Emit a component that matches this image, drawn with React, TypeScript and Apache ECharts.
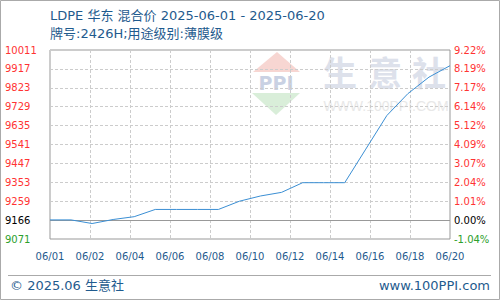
import React, { useEffect, useRef } from "react";
import * as echarts from "echarts";

const dates = ["06/01","06/02","06/03","06/04","06/05","06/06","06/07","06/08","06/09","06/10","06/11","06/12","06/13","06/14","06/15","06/16","06/17","06/18","06/19","06/20"];
const prices = [9166, 9166, 9148, 9168, 9182, 9218, 9218, 9218, 9218, 9259, 9285, 9303, 9351, 9351, 9351, 9518, 9685, 9794, 9876, 9933];
const xTickLabels = ["06/01","06/02","06/04","06/06","06/08","06/10","06/12","06/14","06/16","06/18","06/20"];
const leftLabels = ["9071","9166","9259","9353","9447","9541","9635","9729","9823","9917","10011"];
const rightLabels = ["-1.04%","0.00%","1.01%","2.04%","3.07%","4.09%","5.12%","6.14%","7.17%","8.19%","9.22%"];
const basePrice = 9166;
const yMin = 9071;
const yMax = 10011;
const yStep = 94;
const xStep = 1.9;

const titleLine1 = "LDPE 华东 混合价 2025-06-01 - 2025-06-20";
const titleLine2 = "牌号:2426H;用途级别:薄膜级";
const footerLeft = "© 2025.06 生意社";
const footerRight = "www.100PPI.com";

const BLUE = "#1f5b8e";
const LABEL_FONT = "DejaVu Sans";

function tickIdx(v: number) {
  return Math.round((v - yMin) / yStep);
}
function tickStyle(i: number) {
  return i === 0 ? "g" : i === 1 ? "k" : "r";
}
const rich = {
  g: { color: "#2ca02c", fontSize: 10, fontFamily: LABEL_FONT },
  k: { color: "#000000", fontSize: 10, fontFamily: LABEL_FONT },
  r: { color: "#ff3333", fontSize: 10, fontFamily: LABEL_FONT },
};

export default function App() {
  const ref = useRef<HTMLDivElement>(null);
  useEffect(() => {
    if (!ref.current) return;
    const chart = echarts.init(ref.current, null, { renderer: "svg" });
    const data = dates.map((d, i) => [i, prices[i]]);
    const option: any = {
      animation: false,
      backgroundColor: "#ffffff",
      grid: {
        left: 50, top: 50, width: 400, height: 189,
        show: true, borderColor: "#999999", borderWidth: 1, backgroundColor: "transparent",
      },
      xAxis: {
        type: "value", min: 0, max: dates.length - 1, interval: xStep,
        axisLine: { show: false }, axisTick: { show: false },
        splitLine: { show: true, lineStyle: { color: "#cccccc", type: [3, 2], width: 1 } },
        axisLabel: {
          margin: 12, color: BLUE, fontSize: 10, fontFamily: LABEL_FONT,
          showMinLabel: true, showMaxLabel: true,
          formatter: (v: number) => xTickLabels[Math.round(v / xStep)] ?? "",
        },
      },
      yAxis: [
        {
          type: "value", position: "left", min: yMin, max: yMax, interval: yStep,
          axisLine: { show: false }, axisTick: { show: false },
          splitLine: { show: true, lineStyle: { color: "#cccccc", type: [3, 2], width: 1 } },
          axisLabel: {
            margin: 45, align: "left", rich,
            formatter: (v: number) => { const i = tickIdx(v); return `{${tickStyle(i)}|${leftLabels[i] ?? ""}}`; },
          },
        },
        {
          type: "value", position: "right", min: yMin, max: yMax, interval: yStep,
          axisLine: { show: false }, axisTick: { show: false }, splitLine: { show: false },
          axisLabel: {
            margin: 4, align: "left", rich,
            formatter: (v: number) => { const i = tickIdx(v); return `{${tickStyle(i)}|${rightLabels[i] ?? ""}}`; },
          },
        },
      ],
      series: [
        {
          type: "line", data, symbol: "none", z: 5,
          lineStyle: { color: "#3b8fd4", width: 1 },
          markLine: {
            silent: true, symbol: "none", label: { show: false },
            lineStyle: { color: "#999999", type: "solid", width: 1 },
            data: [{ yAxis: basePrice }],
          },
        },
      ],
      graphic: [
        {
          type: "group", z: -10, silent: true,
          children: [
            { type: "polygon", shape: { points: [[253, 72], [277, 52], [300, 72]] }, style: { fill: "#f7d6d2" } },
            { type: "text", x: 276, y: 83, style: { text: "PPI", fill: "#c9d1e3", font: "bold 19px DejaVu Sans", textAlign: "center", textVerticalAlign: "middle" } },
            { type: "polygon", shape: { points: [[252, 93], [300, 93], [276, 115]] }, style: { fill: "#d9eed9" } },
            { type: "text", x: 340, y: 71, style: { text: "生", fill: "#dde1eb", font: "bold 34px 'Noto Sans CJK SC'", textAlign: "center", textVerticalAlign: "middle" } },
            { type: "text", x: 385, y: 71, style: { text: "意", fill: "#dde1eb", font: "bold 34px 'Noto Sans CJK SC'", textAlign: "center", textVerticalAlign: "middle" } },
            { type: "text", x: 429, y: 71, style: { text: "社", fill: "#dde1eb", font: "bold 34px 'Noto Sans CJK SC'", textAlign: "center", textVerticalAlign: "middle" } },
            { type: "text", x: 386, y: 106, style: { text: "WWW.100PPI.COM", fill: "#e8e8e8", font: "14px 'Liberation Sans'", textAlign: "center", textVerticalAlign: "middle" } },
          ],
        },
        { type: "rect", shape: { x: 0.5, y: 0.5, width: 499, height: 299 }, style: { fill: "none", stroke: "#aaaaaa", lineWidth: 1 }, silent: true },
        { type: "line", shape: { x1: 8, y1: 275.5, x2: 491, y2: 275.5 }, style: { stroke: "#aaaaaa", lineWidth: 1 }, silent: true },
        { type: "text", x: 50, y: 15, style: { text: titleLine1, fill: BLUE, font: "13px 'DejaVu Sans', 'Noto Sans CJK SC'", textVerticalAlign: "middle" } },
        { type: "text", x: 50, y: 33, style: { text: titleLine2, fill: BLUE, font: "13px 'DejaVu Sans', 'Noto Sans CJK SC'", textVerticalAlign: "middle" } },
        { type: "text", x: 10, y: 285, style: { text: footerLeft, fill: BLUE, font: "13px 'DejaVu Sans', 'Noto Sans CJK SC'", textVerticalAlign: "middle" } },
        { type: "text", x: 490, y: 285, style: { text: footerRight, fill: BLUE, font: "13px 'DejaVu Sans'", textAlign: "right", textVerticalAlign: "middle" } },
      ],
    };
    chart.setOption(option);
    return () => chart.dispose();
  }, []);
  return <div ref={ref} style={{ position: "fixed", left: 0, top: 0, width: 500, height: 300 }} />;
}
